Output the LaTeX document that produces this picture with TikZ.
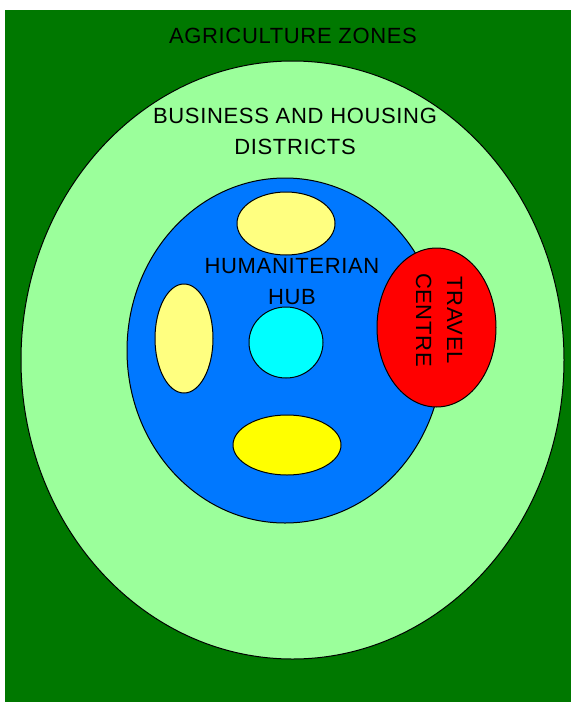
\documentclass[tikz,border=0pt]{standalone}
\usepackage{fontspec}
\setmainfont[LetterSpace=3]{Liberation Sans}
\usepackage{tikz}
\usetikzlibrary{shapes.geometric, positioning}
\definecolor{farmgreen}{RGB}{0,120,0}
\definecolor{citygreen}{RGB}{155,255,155}
\definecolor{hubblue}{RGB}{0,120,255}
\definecolor{paleyellow}{RGB}{255,255,128}
\definecolor{corecyan}{RGB}{0,255,255}
\definecolor{plainyellow}{RGB}{255,255,0}
\definecolor{plainred}{RGB}{255,0,0}
\tikzstyle{zone} = [ellipse,
draw=black,
line width=1pt,
inner sep=0pt]
\tikzstyle{zonetext} = [font=\fontsize{22}{31}\selectfont,
align=center,
inner sep=0pt]

\begin{document}
\begin{tikzpicture}[x=1pt, y=-1pt]
            \useasboundingbox (0,0) rectangle (571,702);
            \fill [farmgreen] (5,10) rectangle (571,702);

            \node (city) [zone, fill=citygreen, minimum width=543pt, minimum height=598pt] at (292.5,360) {};
            \node (hub) [zone, fill=hubblue, minimum width=316pt, minimum height=345pt] at (285,350.5) {};
            \node (travel) [zone, fill=plainred, minimum width=119pt, minimum height=159pt] at (436.5,327.5) {};
            \node (north) [zone, fill=paleyellow, minimum width=98pt, minimum height=63pt] at (286,223.5) {};
            \node (west) [zone, fill=paleyellow, minimum width=58pt, minimum height=109pt] at (184,338.5) {};
            \node (core) [zone, fill=corecyan, minimum width=74pt, minimum height=71pt] at (286,342.5) {};
            \node (south) [zone, fill=plainyellow, minimum width=108pt, minimum height=60pt] at (287,445) {};

            \node (agritext) [zonetext] at (293,36) {AGRICULTURE ZONES};
            \node (citytext) [zonetext] at (295,131) {BUSINESS AND HOUSING\\DISTRICTS};
            \node (hubtext) [zonetext] at (292,281.5) {HUMANITERIAN\\HUB};
            \node (traveltext) [zonetext, rotate=-90] at (439,320) {TRAVEL\\CENTRE};
        \end{tikzpicture}
\end{document}
